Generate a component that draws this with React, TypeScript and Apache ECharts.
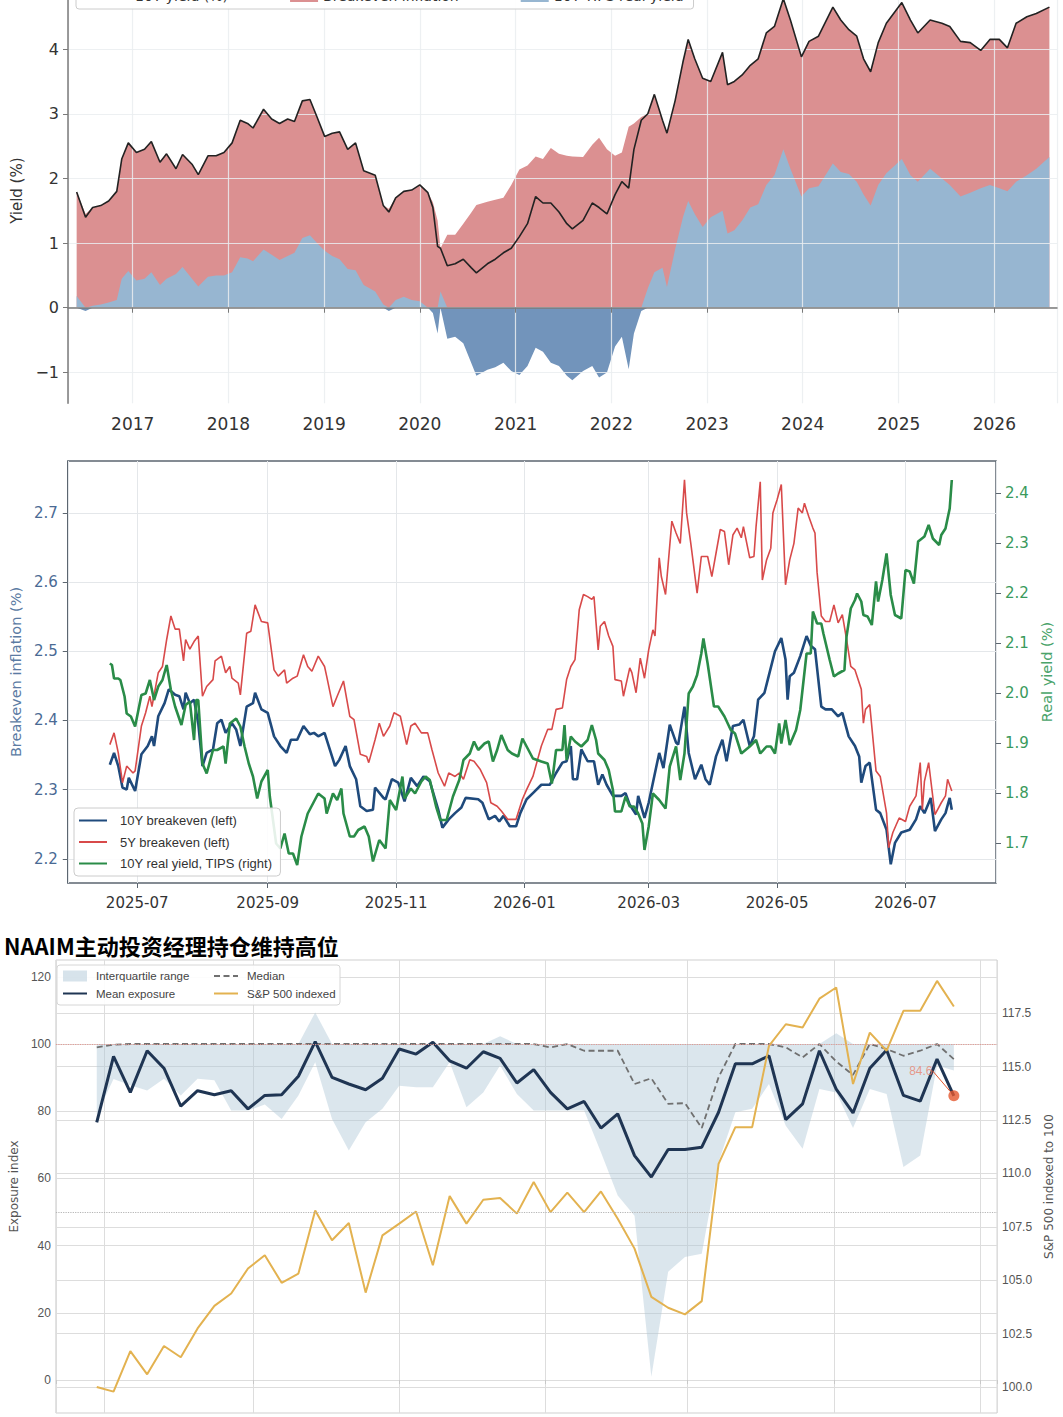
import React, { useEffect, useRef } from "react";
import * as echarts from "echarts";

// ================= TOP CHART: 10Y nominal vs real yield =================
const topDates = [
  "2016-06-01","2016-07-05","2016-08-01","2016-09-01","2016-10-01","2016-11-01","2016-11-20","2016-12-15",
  "2017-01-15","2017-02-15","2017-03-13","2017-04-15","2017-05-10","2017-06-15","2017-07-10","2017-08-15","2017-09-08","2017-10-15","2017-11-15","2017-12-15",
  "2018-01-15","2018-02-15","2018-03-15","2018-04-05","2018-05-15","2018-06-15","2018-07-15","2018-08-15","2018-09-10","2018-10-10","2018-11-08","2018-12-05",
  "2019-01-03","2019-02-01","2019-03-01","2019-04-01","2019-05-01","2019-06-01","2019-07-15","2019-08-15","2019-09-05","2019-10-01","2019-11-01","2019-12-01",
  "2020-01-01","2020-02-01","2020-02-20","2020-03-09","2020-03-20","2020-04-15","2020-05-15","2020-06-15","2020-07-15","2020-08-04","2020-09-15","2020-10-15","2020-11-15","2020-12-15",
  "2021-01-15","2021-02-15","2021-03-18","2021-04-15","2021-05-15","2021-06-15","2021-07-15","2021-08-05","2021-09-15","2021-10-20","2021-11-15","2021-12-15",
  "2022-01-15","2022-02-10","2022-03-08","2022-03-28","2022-04-25","2022-05-20","2022-06-14","2022-07-15","2022-08-01","2022-09-01","2022-10-01","2022-10-21","2022-11-15","2022-12-15",
  "2023-01-15","2023-03-01","2023-03-20","2023-04-15","2023-05-15","2023-06-15","2023-07-15","2023-08-15","2023-09-15","2023-10-19","2023-11-15","2023-12-27",
  "2024-01-25","2024-03-01","2024-04-25","2024-05-25","2024-06-25","2024-07-25","2024-08-20","2024-09-16","2024-10-15","2024-11-15",
  "2025-01-13","2025-02-15","2025-03-15","2025-05-01","2025-06-15","2025-07-15","2025-08-25","2025-10-01","2025-11-10","2025-12-15",
  "2026-01-20","2026-02-20","2026-03-25","2026-05-05","2026-06-10","2026-07-30",
];
const nominal10y = [
  1.79,1.40,1.55,1.58,1.65,1.80,2.30,2.55,
  2.40,2.45,2.57,2.25,2.38,2.15,2.37,2.22,2.06,2.35,2.35,2.40,
  2.55,2.90,2.85,2.78,3.07,2.92,2.85,2.92,2.88,3.20,3.22,2.95,
  2.65,2.70,2.72,2.45,2.55,2.12,2.05,1.58,1.48,1.70,1.80,1.82,
  1.90,1.78,1.55,0.95,0.92,0.65,0.68,0.75,0.62,0.54,0.68,0.75,0.85,0.92,
  1.10,1.30,1.72,1.62,1.62,1.48,1.30,1.22,1.35,1.62,1.55,1.45,
  1.75,1.95,1.85,2.45,2.90,3.00,3.30,2.90,2.70,3.20,3.80,4.15,3.85,3.55,
  3.50,3.95,3.45,3.50,3.60,3.75,3.85,4.25,4.35,4.78,4.45,3.88,
  4.12,4.20,4.65,4.45,4.30,4.20,3.85,3.65,4.10,4.40,
  4.72,4.45,4.25,4.45,4.40,4.35,4.12,4.10,3.98,4.15,
  4.15,4.02,4.40,4.50,4.55,4.65,
];
const real10y = [
  0.18,-0.05,0.03,0.05,0.08,0.12,0.45,0.57,
  0.42,0.45,0.55,0.35,0.45,0.52,0.63,0.45,0.33,0.48,0.50,0.50,
  0.55,0.78,0.76,0.72,0.90,0.82,0.74,0.80,0.85,1.08,1.12,1.00,
  0.88,0.80,0.75,0.60,0.58,0.35,0.25,0.05,-0.05,0.12,0.17,0.12,
  0.10,0.00,-0.08,-0.40,0.25,-0.48,-0.45,-0.55,-0.85,-1.05,-0.96,-0.92,-0.85,-0.98,
  -1.04,-0.90,-0.62,-0.68,-0.85,-0.90,-1.05,-1.12,-0.98,-0.90,-1.08,-1.00,
  -0.60,-0.45,-0.95,-0.40,-0.05,0.30,0.55,0.62,0.32,0.90,1.40,1.65,1.45,1.25,
  1.40,1.50,1.15,1.20,1.35,1.55,1.60,1.90,2.05,2.45,2.15,1.72,
  1.85,1.88,2.23,2.10,2.07,1.95,1.75,1.58,1.90,2.08,
  2.30,2.05,1.95,2.15,2.00,1.90,1.72,1.78,1.85,1.90,
  1.85,1.80,1.95,2.05,2.15,2.33,
];
const topLegendNames = ["10Y yield (%)", "Breakeven inflation", "10Y TIPS real yield"];

// ================= MIDDLE CHART: breakevens & real yield =================
// x = days after 2025-07-01
const be10y = [[-13,2.336],[-11,2.353],[-9,2.334],[-7,2.303],[-5,2.300],[-4,2.317],[-1,2.298],[2,2.351],[5,2.363],[7,2.377],[8,2.363],[10,2.406],[13,2.425],[15,2.445],[18,2.437],[20,2.435],[22,2.416],[23,2.44],[25,2.425],[27,2.43],[29,2.396],[31,2.334],[33,2.353],[36,2.358],[38,2.396],[40,2.401],[42,2.382],[45,2.396],[47,2.387],[49,2.363],[52,2.42],[55,2.425],[56,2.44],[59,2.416],[62,2.411],[65,2.377],[68,2.363],[71,2.353],[73,2.372],[76,2.372],[79,2.392],[82,2.38],[84,2.382],[86,2.377],[89,2.382],[91,2.363],[94,2.334],[96,2.343],[99,2.363],[101,2.334],[104,2.315],[106,2.276],[109,2.269],[112,2.271],[113,2.303],[117,2.288],[118,2.286],[121,2.315],[124,2.31],[127,2.283],[130,2.317],[133,2.305],[136,2.319],[139,2.312],[143,2.271],[145,2.245],[148,2.257],[151,2.266],[154,2.274],[156,2.288],[162,2.286],[164,2.281],[167,2.257],[170,2.262],[172,2.254],[174,2.262],[177,2.247],[180,2.247],[182,2.266],[185,2.286],[188,2.295],[192,2.307],[196,2.307],[199,2.324],[202,2.339],[204,2.341],[206,2.363],[207,2.315],[209,2.315],[211,2.358],[214,2.341],[217,2.341],[219,2.307],[221,2.322],[223,2.307],[226,2.291],[230,2.291],[232,2.295],[234,2.278],[237,2.264],[238,2.291],[241,2.259],[243,2.281],[245,2.31],[248,2.353],[250,2.331],[253,2.394],[256,2.368],[257,2.365],[260,2.42],[262,2.353],[265,2.315],[268,2.336],[270,2.315],[272,2.307],[275,2.348],[278,2.372],[280,2.341],[283,2.392],[286,2.394],[288,2.401],[291,2.363],[293,2.377],[295,2.43],[298,2.44],[300,2.464],[303,2.5],[306,2.519],[308,2.488],[309,2.43],[310,2.464],[312,2.469],[315,2.493],[318,2.522],[320,2.508],[322,2.503],[325,2.42],[327,2.416],[330,2.416],[333,2.406],[335,2.411],[338,2.377],[341,2.363],[343,2.348],[344,2.31],[346,2.334],[348,2.339],[351,2.271],[353,2.266],[356,2.242],[358,2.192],[360,2.223],[363,2.238],[367,2.242],[370,2.257],[372,2.276],[374,2.266],[377,2.288],[379,2.24],[382,2.257],[384,2.266],[386,2.288],[387,2.271]];
const be5y = [[-13,2.365],[-11,2.382],[-9,2.353],[-7,2.31],[-5,2.334],[-2,2.324],[-1,2.327],[2,2.392],[4,2.411],[6,2.435],[7,2.42],[10,2.469],[12,2.478],[14,2.517],[16,2.551],[18,2.532],[20,2.532],[22,2.486],[23,2.517],[25,2.503],[27,2.514],[29,2.522],[31,2.435],[33,2.449],[36,2.459],[37,2.486],[40,2.493],[42,2.469],[44,2.478],[45,2.461],[48,2.454],[49,2.437],[52,2.526],[54,2.529],[56,2.567],[59,2.543],[62,2.541],[65,2.473],[67,2.464],[70,2.473],[71,2.454],[74,2.461],[76,2.464],[79,2.495],[81,2.478],[83,2.471],[86,2.493],[89,2.478],[90,2.464],[93,2.42],[95,2.435],[98,2.457],[101,2.406],[103,2.401],[106,2.351],[109,2.348],[110,2.339],[113,2.372],[115,2.396],[117,2.377],[120,2.392],[122,2.411],[125,2.406],[128,2.365],[130,2.392],[132,2.396],[135,2.382],[138,2.382],[140,2.358],[143,2.324],[146,2.305],[148,2.324],[151,2.319],[153,2.324],[155,2.315],[158,2.343],[160,2.341],[163,2.329],[166,2.31],[168,2.281],[171,2.276],[173,2.269],[176,2.257],[180,2.257],[183,2.286],[185,2.3],[188,2.319],[192,2.363],[195,2.387],[197,2.387],[199,2.416],[202,2.418],[204,2.459],[206,2.478],[208,2.488],[210,2.56],[212,2.582],[214,2.579],[216,2.575],[217,2.579],[219,2.502],[220,2.536],[222,2.543],[224,2.522],[226,2.507],[227,2.459],[230,2.457],[231,2.435],[234,2.476],[235,2.469],[237,2.44],[239,2.49],[241,2.461],[243,2.502],[245,2.531],[246,2.522],[248,2.635],[249,2.608],[251,2.582],[254,2.688],[256,2.671],[258,2.656],[260,2.748],[261,2.7],[263,2.656],[266,2.584],[268,2.637],[271,2.637],[273,2.608],[275,2.642],[277,2.676],[279,2.673],[281,2.625],[283,2.668],[285,2.678],[287,2.664],[288,2.68],[291,2.635],[293,2.637],[294,2.68],[296,2.745],[297,2.603],[299,2.632],[301,2.649],[302,2.7],[304,2.719],[306,2.741],[308,2.596],[310,2.632],[312,2.656],[314,2.707],[316,2.7],[317,2.714],[319,2.695],[321,2.678],[322,2.671],[323,2.614],[325,2.551],[327,2.543],[329,2.543],[331,2.567],[333,2.541],[335,2.553],[337,2.517],[339,2.478],[341,2.473],[344,2.445],[345,2.396],[346,2.416],[348,2.423],[351,2.327],[353,2.319],[356,2.266],[357,2.216],[359,2.238],[362,2.259],[365,2.254],[367,2.276],[370,2.291],[372,2.339],[373,2.271],[374,2.312],[376,2.339],[379,2.264],[382,2.281],[384,2.291],[385,2.315],[387,2.298]];
const tips10y = [[-13,2.059],[-12,2.056],[-11,2.029],[-9,2.029],[-8,2.026],[-6,1.993],[-5,1.959],[-3,1.953],[-1,1.933],[2,1.996],[4,1.999],[6,2.026],[8,1.986],[10,2.013],[12,2.026],[14,2.056],[16,2.006],[18,1.973],[21,1.936],[23,1.976],[25,1.983],[27,1.906],[28,1.986],[29,1.986],[31,1.859],[33,1.839],[36,1.886],[38,1.886],[41,1.893],[42,1.859],[44,1.939],[47,1.949],[49,1.933],[51,1.893],[53,1.859],[55,1.833],[57,1.789],[59,1.823],[62,1.846],[63,1.793],[66,1.699],[68,1.689],[70,1.719],[72,1.679],[74,1.679],[76,1.656],[78,1.713],[81,1.759],[84,1.783],[86,1.799],[89,1.789],[90,1.759],[93,1.799],[95,1.786],[97,1.809],[98,1.759],[101,1.713],[103,1.713],[105,1.726],[108,1.733],[110,1.713],[112,1.663],[115,1.706],[118,1.689],[120,1.786],[123,1.766],[126,1.833],[127,1.789],[130,1.809],[132,1.799],[135,1.823],[137,1.833],[139,1.826],[142,1.773],[144,1.746],[147,1.746],[150,1.793],[153,1.826],[155,1.866],[158,1.879],[160,1.903],[162,1.886],[165,1.899],[167,1.903],[169,1.863],[171,1.886],[173,1.916],[176,1.886],[178,1.879],[181,1.873],[183,1.909],[185,1.893],[188,1.869],[192,1.863],[195,1.859],[197,1.819],[199,1.886],[202,1.886],[203,1.936],[204,1.866],[206,1.913],[208,1.903],[211,1.893],[214,1.906],[216,1.936],[218,1.906],[219,1.879],[222,1.866],[224,1.846],[226,1.806],[227,1.763],[230,1.763],[232,1.793],[234,1.773],[236,1.773],[238,1.759],[240,1.739],[241,1.686],[243,1.733],[245,1.799],[248,1.786],[251,1.769],[253,1.853],[256,1.893],[258,1.826],[260,1.879],[262,1.999],[264,2.013],[266,2.036],[268,2.079],[269,2.109],[271,2.059],[274,1.973],[276,1.973],[279,1.953],[282,1.926],[284,1.919],[287,1.879],[289,1.886],[291,1.893],[294,1.906],[296,1.879],[299,1.893],[301,1.893],[303,1.879],[305,1.939],[306,1.899],[308,1.946],[310,1.896],[313,1.926],[315,1.966],[318,2.079],[320,2.079],[321,2.163],[323,2.139],[325,2.139],[326,2.119],[329,2.066],[331,2.033],[333,2.039],[336,2.046],[337,2.113],[339,2.169],[341,2.186],[342,2.199],[344,2.183],[345,2.156],[347,2.153],[349,2.136],[351,2.223],[352,2.183],[354,2.226],[356,2.279],[358,2.196],[360,2.156],[363,2.149],[365,2.246],[367,2.243],[369,2.219],[371,2.303],[374,2.313],[376,2.336],[378,2.309],[381,2.296],[382,2.316],[384,2.329],[386,2.369],[387,2.426]];

// ================= BOTTOM CHART: NAAIM exposure =================
const naaimTitle = "NAAIM主动投资经理持仓维持高位";
const naaimWeeks = [
  "2025-06-28","2025-07-05","2025-07-12","2025-07-19","2025-07-26","2025-08-02","2025-08-09","2025-08-16","2025-08-23","2025-08-30",
  "2025-09-06","2025-09-13","2025-09-20","2025-09-27","2025-10-04","2025-10-11","2025-10-18","2025-10-25","2025-11-01","2025-11-08",
  "2025-11-15","2025-11-22","2025-11-29","2025-12-06","2025-12-13","2025-12-20","2025-12-27","2026-01-03","2026-01-10","2026-01-17",
  "2026-01-24","2026-01-31","2026-02-07","2026-02-14","2026-02-21","2026-02-28","2026-03-07","2026-03-14","2026-03-21","2026-03-28",
  "2026-04-04","2026-04-11","2026-04-18","2026-04-25","2026-05-02","2026-05-09","2026-05-16","2026-05-23","2026-05-30","2026-06-06",
  "2026-06-13","2026-06-20",
];
const meanExposure = [
  76.7,96.3,85.6,98.0,92.8,81.5,86.1,84.9,86.1,80.7,
  84.7,84.9,90.4,100.7,90.1,88.1,86.4,89.8,98.5,97.0,
  100.5,95.0,92.8,97.7,95.7,88.4,92.4,85.6,80.7,82.9,
  75.0,79.2,66.8,60.4,68.6,68.6,69.3,79.7,94.1,94.1,
  96.5,77.5,82.2,98.0,86.6,79.5,92.8,98.2,84.7,83.0,
  95.5,84.6,
];
const medianExposure = [
  99.0,99.8,100,100,100,100,100,100,100,100,
  100,100,100,100,100,100,100,100,100,100,
  100,100,100,100,100,100,100,99.0,100,98.0,
  98.0,98.0,88.1,89.8,82.2,82.4,75.0,90.1,100,100,
  100,99.0,96.0,100,94.8,90.8,100,98.5,96.5,98.0,
  100,95.5,
];
const iqrUpper = [
  100,100,100,100,100,100,100,100,100,100,
  100,100,100,109.4,100,100,100,100,100,100,
  100,100,100,100,102.3,100,100,100,100,100,
  100,100,100,100,100,100,100,100,100,100,
  100,100,100,100,103.2,100,100,100,100,100,
  100,100,
];
const iqrLower = [
  79.0,89.6,87.7,86.2,89.7,84.7,89.7,89.2,80.2,80.2,
  82.0,77.7,84.7,94.6,77.7,68.3,76.7,80.7,87.6,87.1,
  87.1,94.6,81.2,85.6,93.6,85.1,80.2,80.2,80.2,80.2,
  67.8,54.9,48.9,1.0,32.2,36.6,37.6,64.9,79.7,80.7,
  88.1,75.7,68.8,86.6,85.6,75.0,86.6,85.1,63.4,66.8,
  93.6,92.1,
];
const spxIndexed = [
  100.0,99.78,101.68,100.59,101.92,101.39,102.74,103.80,104.38,105.55,
  106.17,104.88,105.31,108.27,106.87,107.68,104.42,107.10,107.65,108.22,
  105.70,108.94,107.65,108.77,108.85,108.12,109.60,108.19,109.10,108.19,
  109.16,107.88,106.48,104.22,103.71,103.40,104.02,110.45,112.17,112.17,
  115.98,116.99,116.84,118.19,118.71,114.19,116.60,115.75,117.62,117.62,
  119.02,117.82,
];
const spxTicks = [100, 102.5, 105, 107.5, 110, 112.5, 115, 117.5];

// ================= helpers =================
const DAY = 86400000;
const MID_BASE = new Date(2025, 6, 1).getTime();
const midTs = (d: number) => MID_BASE + d * DAY;
const ts = (y: number, m: number, d: number) => new Date(y, m - 1, d).getTime();
const F = "DejaVu Sans";
const FL = "Liberation Sans";
const OY = 40; // container is shifted up by 40px

const RED = "#db9091";
const LBLUE = "#97b6d1";
const DBLUE = "#7294bb";
const NAVY = "#1f4a7c";
const RED5 = "#d84a4a";
const GREEN = "#2a8c48";
const IQR = "rgba(176,200,216,0.45)";
const HIDE_SYMBOL = { opacity: 0 };

function buildOption(): any {
  const redTop = topDates.map((d, i) => [d, nominal10y[i] - Math.min(real10y[i], 0)]);
  const realPos = topDates.map((d, i) => [d, Math.max(real10y[i], 0)]);
  const realNeg = topDates.map((d, i) => [d, Math.min(real10y[i], 0)]);
  const nomLine = topDates.map((d, i) => [d, nominal10y[i]]);

  const mid = (arr: number[][]) => arr.map(([d, v]) => [midTs(d), v]);
  const bot = (arr: number[]) => naaimWeeks.map((d, i) => [d, arr[i]]);
  const last = naaimWeeks.length - 1;

  const topGrid = "rgba(234,237,240,0.85)";
  const midGrid = "#e4e7ea";
  const botGrid = "#dddddd";
  const frame = "#5c6670";

  return {
    animation: false,
    backgroundColor: "#ffffff",
    textStyle: { fontFamily: F },
    title: {
      text: naaimTitle,
      left: 4,
      top: 934 + OY,
      padding: 0,
      textStyle: { fontSize: 22, fontWeight: "bold", color: "#000", fontFamily: "Noto Sans CJK SC" },
    },
    grid: [
      { left: 68, right: 6, top: -22 + OY, height: 425.3, show: false },
      { left: 66, right: 67, top: 461 + OY, height: 422, show: true, borderColor: frame, borderWidth: 1.5 },
      { left: 51, right: 61, top: 960 + OY, height: 453, show: true, borderColor: "#cfcfcf", borderWidth: 1 },
    ],
    legend: [
      {
        left: 76, top: -16 + OY, orient: "horizontal",
        padding: [5, 10, 6, 25], itemGap: 62, itemWidth: 28, itemHeight: 12,
        borderColor: "#cccccc", borderWidth: 1, borderRadius: 3, backgroundColor: "rgba(255,255,255,0.9)",
        textStyle: { fontSize: 14, color: "#333", fontFamily: F },
        itemStyle: HIDE_SYMBOL,
        data: [
          { name: topLegendNames[0] },
          { name: topLegendNames[1], icon: "rect", itemStyle: { color: RED, opacity: 1 } },
          { name: topLegendNames[2], icon: "rect", itemStyle: { color: LBLUE, opacity: 1 } },
        ],
        z: 10,
      },
      {
        left: 74, top: 808 + OY, orient: "vertical",
        padding: [6, 8, 6, 4], itemGap: 8.5, itemWidth: 28, itemHeight: 13,
        borderColor: "#cccccc", borderWidth: 1, borderRadius: 4, backgroundColor: "rgba(255,255,255,0.88)",
        textStyle: { fontSize: 13, color: "#333", fontFamily: FL, padding: [0, 0, 0, 8] },
        itemStyle: HIDE_SYMBOL,
        data: ["10Y breakeven (left)", "5Y breakeven (left)", "10Y real yield, TIPS (right)"],
        z: 10,
      },
      {
        left: 62, top: 970 + OY, orient: "vertical", padding: 0,
        itemGap: 5.5, itemWidth: 24, itemHeight: 11,
        textStyle: { fontSize: 11.5, color: "#444", fontFamily: FL, padding: [0, 0, 0, 4] },
        itemStyle: HIDE_SYMBOL,
        data: [{ name: "Interquartile range", icon: "rect", itemStyle: { color: "rgba(176,200,216,0.5)", opacity: 1 } }, "Mean exposure"],
        z: 10,
      },
      {
        left: 213, top: 970 + OY, orient: "vertical", padding: 0,
        itemGap: 5.5, itemWidth: 24, itemHeight: 11,
        textStyle: { fontSize: 11.5, color: "#444", fontFamily: FL, padding: [0, 0, 0, 4] },
        itemStyle: HIDE_SYMBOL,
        data: ["Median", "S&P 500 indexed"],
        z: 10,
      },
    ],
    graphic: [
      {
        type: "rect",
        shape: { x: 57, y: 965 + OY, width: 283, height: 40, r: 3 },
        style: { fill: "rgba(255,255,255,0.9)", stroke: "#d6d6d6", lineWidth: 1 },
        z: 5,
      },
    ],
    xAxis: [
      {
        type: "time", gridIndex: 0, min: ts(2016, 4, 29), max: ts(2026, 8, 28), splitNumber: 10, z: 3,
        axisLine: { show: true, lineStyle: { color: "#7a7a7a", width: 1.5 } },
        axisTick: { show: true, length: 5, lineStyle: { color: "#7a7a7a" } },
        axisLabel: { formatter: "{yyyy}", fontSize: 17, color: "#333", margin: 12, fontFamily: F, showMinLabel: false, showMaxLabel: false },
        splitLine: { show: true, lineStyle: { color: topGrid, width: 1.2 } },
      },
      {
        type: "time", gridIndex: 1, min: ts(2025, 5, 29), max: ts(2026, 8, 13), splitNumber: 5,
        axisLine: { show: false },
        axisTick: { show: true, length: 5, lineStyle: { color: frame } },
        axisLabel: { formatter: "{yyyy}-{MM}", fontSize: 15, color: "#333", margin: 12, fontFamily: F, showMinLabel: false, showMaxLabel: false },
        splitLine: { show: true, lineStyle: { color: midGrid, width: 1 } },
      },
      {
        type: "time", gridIndex: 2, min: ts(2025, 6, 11), max: ts(2026, 7, 8), splitNumber: 5,
        axisLine: { show: false },
        axisTick: { show: true, length: 4, lineStyle: { color: "#c8c8c8" } },
        axisLabel: { show: false },
        splitLine: { show: true, lineStyle: { color: botGrid, width: 1 } },
      },
    ],
    yAxis: [
      {
        type: "value", gridIndex: 0, min: -1.478, max: 5.1, splitNumber: 6, z: 3,
        axisLine: { show: true, lineStyle: { color: "#7a7a7a", width: 1.5 } },
        axisTick: { show: true, length: 5, lineStyle: { color: "#7a7a7a" } },
        axisLabel: {
          fontSize: 16, color: "#333", margin: 9, fontFamily: F, showMinLabel: false, showMaxLabel: false,
          formatter: (v: number) => (v < 0 ? "\u2212" + Math.abs(v) : String(v)),
        },
        splitLine: { show: true, showMinLine: false, lineStyle: { color: topGrid, width: 1.2 } },
        name: "Yield (%)", nameLocation: "middle", nameGap: 42, nameRotate: 90,
        nameTextStyle: { fontSize: 15, color: "#333", fontFamily: F },
      },
      {
        type: "value", gridIndex: 1, position: "left", min: 2.165, max: 2.775, splitNumber: 6,
        axisLine: { show: false },
        axisTick: { show: true, length: 5, lineStyle: { color: frame } },
        axisLabel: { fontSize: 15, color: "#4a6a94", margin: 10, fontFamily: F, showMinLabel: false, showMaxLabel: false, formatter: (v: number) => v.toFixed(1) },
        splitLine: { show: true, showMinLine: false, showMaxLine: false, lineStyle: { color: midGrid, width: 1 } },
        name: "Breakeven inflation (%)", nameLocation: "middle", nameGap: 44, nameRotate: 90,
        nameTextStyle: { fontSize: 14.5, color: "#5b7ba3", fontFamily: F },
      },
      {
        type: "value", gridIndex: 1, position: "right", min: 1.62, max: 2.464, splitNumber: 8,
        axisLine: { show: false },
        axisTick: { show: true, length: 5, lineStyle: { color: frame } },
        axisLabel: { fontSize: 15, color: "#3a9a5c", margin: 9, fontFamily: F, showMinLabel: false, showMaxLabel: false, formatter: (v: number) => v.toFixed(1) },
        splitLine: { show: false },
        name: "Real yield (%)", nameLocation: "middle", nameGap: 38, nameRotate: 90,
        nameTextStyle: { fontSize: 14.5, color: "#4aa36a", fontFamily: F },
      },
      {
        type: "value", gridIndex: 2, position: "left", min: -9.8, max: 125, splitNumber: 7,
        axisLine: { show: false },
        axisTick: { show: false },
        axisLabel: { fontSize: 12, color: "#555", margin: 5, fontFamily: FL, showMinLabel: false, showMaxLabel: false },
        splitLine: { show: true, showMinLine: false, showMaxLine: false, lineStyle: { color: botGrid, width: 1 } },
        name: "Exposure index", nameLocation: "middle", nameGap: 32, nameRotate: 90,
        nameTextStyle: { fontSize: 12, color: "#555", fontFamily: F },
      },
      {
        type: "value", gridIndex: 2, position: "right", min: 98.78, max: 120,
        axisLine: { show: false },
        axisTick: { show: false, customValues: spxTicks },
        axisLabel: { fontSize: 12, color: "#555", margin: 5, fontFamily: FL, customValues: spxTicks, formatter: (v: number) => v.toFixed(1) },
        splitLine: { show: true, lineStyle: { color: botGrid, width: 1 } },
        name: "S&P 500 indexed to 100", nameLocation: "middle", nameGap: 38, nameRotate: 90,
        nameTextStyle: { fontSize: 12, color: "#555", fontFamily: F },
      },
    ],
    series: [
      // ---- top
      {
        name: topLegendNames[1], type: "line", xAxisIndex: 0, yAxisIndex: 0, data: redTop,
        symbol: "none", lineStyle: { width: 0, color: RED }, itemStyle: { color: RED },
        areaStyle: { color: RED, opacity: 1 }, z: 2,
      },
      {
        name: topLegendNames[2], type: "line", xAxisIndex: 0, yAxisIndex: 0, data: realPos,
        symbol: "none", lineStyle: { width: 0, color: LBLUE }, itemStyle: { color: LBLUE },
        areaStyle: { color: LBLUE, opacity: 1 }, z: 2,
      },
      {
        name: "__realNeg", type: "line", xAxisIndex: 0, yAxisIndex: 0, data: realNeg,
        symbol: "none", lineStyle: { width: 0, color: DBLUE }, itemStyle: { color: DBLUE },
        areaStyle: { color: DBLUE, opacity: 1 }, z: 2,
      },
      {
        name: topLegendNames[0], type: "line", xAxisIndex: 0, yAxisIndex: 0, data: nomLine,
        symbol: "none", lineStyle: { width: 1.6, color: "#222" }, itemStyle: { color: "#222" }, z: 5,
      },
      // ---- middle
      {
        name: "10Y breakeven (left)", type: "line", xAxisIndex: 1, yAxisIndex: 1, data: mid(be10y),
        symbol: "none", lineStyle: { width: 2.6, color: NAVY }, itemStyle: { color: NAVY },
      },
      {
        name: "5Y breakeven (left)", type: "line", xAxisIndex: 1, yAxisIndex: 1, data: mid(be5y),
        symbol: "none", lineStyle: { width: 1.6, color: RED5 }, itemStyle: { color: RED5 },
      },
      {
        name: "10Y real yield, TIPS (right)", type: "line", xAxisIndex: 1, yAxisIndex: 2, data: mid(tips10y),
        symbol: "none", lineStyle: { width: 2.6, color: GREEN }, itemStyle: { color: GREEN },
      },
      // ---- bottom
      {
        name: "__iqrLow", type: "line", xAxisIndex: 2, yAxisIndex: 3, stack: "iqr", data: bot(iqrLower),
        symbol: "none", lineStyle: { opacity: 0 }, silent: true,
      },
      {
        name: "Interquartile range", type: "line", xAxisIndex: 2, yAxisIndex: 3, stack: "iqr",
        data: naaimWeeks.map((d, i) => [d, iqrUpper[i] - iqrLower[i]]),
        symbol: "none", lineStyle: { opacity: 0, color: IQR }, itemStyle: { color: IQR },
        areaStyle: { color: IQR, opacity: 1 },
      },
      {
        name: "Median", type: "line", xAxisIndex: 2, yAxisIndex: 3, data: bot(medianExposure),
        symbol: "none", lineStyle: { width: 1.8, color: "#707070", type: [6, 3.5] }, itemStyle: { color: "#707070" },
      },
      {
        name: "Mean exposure", type: "line", xAxisIndex: 2, yAxisIndex: 3, data: bot(meanExposure),
        symbol: "none", lineStyle: { width: 3, color: "#1f3553" }, itemStyle: { color: "#1f3553" },
        markLine: {
          silent: true, symbol: ["none", "none"], label: { show: false },
          data: [
            { yAxis: 100, lineStyle: { color: "#e39a92", type: "dotted", width: 1.2 } },
            { yAxis: 50, lineStyle: { color: "#b5b5b5", type: "dotted", width: 1.2 } },
          ],
        },
        z: 3,
      },
      {
        name: "S&P 500 indexed", type: "line", xAxisIndex: 2, yAxisIndex: 4, data: bot(spxIndexed),
        symbol: "none", lineStyle: { width: 2, color: "#e3b250" }, itemStyle: { color: "#e3b250" },
      },
      {
        name: "__last", type: "scatter", xAxisIndex: 2, yAxisIndex: 3,
        data: [[naaimWeeks[last], meanExposure[last]]],
        symbolSize: 11, itemStyle: { color: "#e4572e" }, z: 6,
        label: {
          show: true, position: "inside", color: "#e8846f", fontSize: 12, fontFamily: FL,
          formatter: (p: any) => Number(p.value[1]).toFixed(1),
        },
        labelLayout: { dx: -33, dy: -25 },
        labelLine: { show: true, lineStyle: { color: "#e4572e", width: 1 } },
      },
    ],
  };
}

export default function App() {
  const ref = useRef<HTMLDivElement>(null);
  useEffect(() => {
    if (!ref.current) return;
    const chart = echarts.init(ref.current, undefined, { renderer: "svg" });
    chart.setOption(buildOption());
    return () => chart.dispose();
  }, []);
  return (
    <div
      ref={ref}
      style={{ position: "absolute", left: 0, top: -OY, width: 1063, height: 1417 + OY, background: "#fff" }}
    />
  );
}
